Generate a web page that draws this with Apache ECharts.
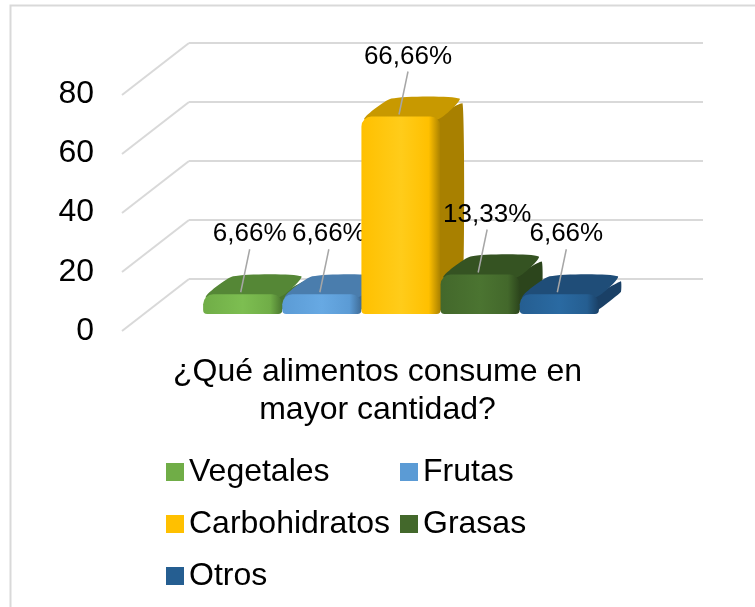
<!DOCTYPE html>
<html>
<head>
<meta charset="utf-8">
<script src="https://cdn.jsdelivr.net/npm/echarts@6/dist/echarts.min.js"></script>
<style>
  html, body { margin: 0; padding: 0; background: #fff; }
  #container { width: 755px; height: 607px; }
</style>
</head>
<body>
<div id="container"></div>
<script>
var category = '¿Qué alimentos consume en mayor cantidad?';
var foods = ['Vegetales', 'Frutas', 'Carbohidratos', 'Grasas', 'Otros'];
var shares = [6.66, 6.66, 66.66, 13.33, 6.66];
var yTicks = [0, 20, 40, 60, 80];

// front, top, side colours per food
var frontColors = ['#70AD47', '#5B9BD5', '#FFC000', '#43682B', '#255E91'];
var lightColors = ['#7DBE51', '#67A9E3', '#FFCC1A', '#4B7431', '#2A6AA2'];
var topColors = ['#558736', '#4A7DAD', '#C89900', '#355322', '#1F4D78'];
var sideColors = ['#4A772F', '#3F6C97', '#A88000', '#2C451C', '#1A4066'];

var FONT = 'Liberation Sans, Arial, sans-serif';
var BAR_FRAC = 0.154;
var DEPTH_X = 22, DEPTH_Y = -18;   // bar depth
var WALL_X = 67, WALL_Y = -52;     // floor depth (front axis -> back wall)

function fmt(v) {
  return v.toFixed(2).replace('.', ',') + '%';
}

function barRenderer(k) {
  return function (params, api) {
    var base = api.coord([api.value(0), 0]);
    var top = api.coord([api.value(0), api.value(1)]);
    var band = api.size([1, 0])[0];
    var w = band * BAR_FRAC;
    var x0 = base[0] + (k - foods.length / 2) * w;
    var yb = base[1], yt = top[1];
    var cx = x0 + w / 2;
    return {
      type: 'group',
      children: [
        {
          type: 'polygon',
          shape: { points: [[x0 + w - 4, yt + 2], [x0 + w + DEPTH_X, yt + DEPTH_Y + 5],
                            [x0 + w + DEPTH_X, yb + DEPTH_Y - 4], [x0 + w - 4, yb - 2]],
                   smooth: 0.1 },
          style: { fill: sideColors[k] }
        },
        {
          type: 'polygon',
          shape: { points: [[x0 + 3, yt + 3], [x0 + w - 3, yt + 3],
                            [x0 + w + DEPTH_X - 3, yt + DEPTH_Y], [x0 + DEPTH_X + 8, yt + DEPTH_Y]],
                   smooth: 0.2 },
          style: { fill: topColors[k] }
        },
        {
          type: 'rect',
          shape: { x: x0, y: yt, width: w, height: yb - yt, r: [10, 10, 4, 4] },
          style: {
            fill: new echarts.graphic.LinearGradient(0, 0, 1, 0, [
              { offset: 0, color: frontColors[k] },
              { offset: 0.5, color: lightColors[k] },
              { offset: 0.85, color: frontColors[k] },
              { offset: 1, color: sideColors[k] }
            ])
          }
        },
        {
          type: 'line',
          shape: { x1: cx - 2, y1: yt - 2, x2: cx + 7, y2: yt - 45 },
          style: { stroke: '#a6a6a6', lineWidth: 1.5 }
        },
        {
          type: 'text',
          style: {
            text: fmt(api.value(1)), x: cx + 7, y: yt - 60,
            align: 'center', verticalAlign: 'middle',
            fontSize: 26, fontFamily: FONT, fill: '#000'
          }
        }
      ]
    };
  };
}

var barSeries = foods.map(function (name, k) {
  return {
    name: name,
    type: 'custom',
    xAxisIndex: 2,
    yAxisIndex: 2,
    itemStyle: { color: frontColors[k] },
    renderItem: barRenderer(k),
    data: [[0, shares[k]]],
    z: 3
  };
});

var legendText = { fontSize: 32, lineHeight: 34, color: '#000', fontFamily: FONT };

var dom = document.getElementById('container');
var myChart = echarts.init(dom);
var option = {
  animation: false,
  backgroundColor: '#fff',
  textStyle: { fontFamily: FONT },
  title: {
    text: '¿Qué alimentos consume en\nmayor cantidad?',
    left: 'center',
    top: 348,
    textStyle: { fontSize: 32, lineHeight: 38, fontWeight: 'normal', color: '#000', fontFamily: FONT }
  },
  legend: [
    {
      orient: 'vertical', left: 166, top: 455, itemGap: 18, padding: 0,
      itemWidth: 18, itemHeight: 18, icon: 'rect',
      data: [foods[0], foods[2], foods[4]],
      textStyle: legendText
    },
    {
      orient: 'vertical', left: 400, top: 455, itemGap: 18, padding: 0,
      itemWidth: 18, itemHeight: 18, icon: 'rect',
      data: [foods[1], foods[3]],
      textStyle: legendText
    }
  ],
  grid: [
    { left: 122, right: 120, top: 94, bottom: 276 },   // front: axis labels
    { left: 189, right: 52, top: 43, bottom: 328 },    // back wall
    { left: 144, right: 97, top: 77, bottom: 293 }     // bars
  ],
  xAxis: [
    { gridIndex: 0, type: 'category', data: [category], show: false },
    { gridIndex: 1, type: 'value', min: 0, max: 1, show: false },
    { gridIndex: 2, type: 'category', data: [category], show: false }
  ],
  yAxis: [
    {
      gridIndex: 0, type: 'value', min: 0, max: 80, interval: 20,
      axisLine: { show: false }, axisTick: { show: false }, splitLine: { show: false },
      axisLabel: { fontSize: 32, color: '#000', margin: 28, fontFamily: FONT, padding: [10, 0, 0, 0] }
    },
    {
      gridIndex: 1, type: 'value', min: 0, max: 80, interval: 20,
      axisLine: { show: false }, axisTick: { show: false }, axisLabel: { show: false },
      splitLine: { lineStyle: { color: '#d9d9d9', width: 2 } }
    },
    { gridIndex: 2, type: 'value', min: 0, max: 80, show: false }
  ],
  graphic: [
    {
      type: 'rect',
      shape: { x: 10.5, y: 5.5, width: 900, height: 900 },
      style: { fill: 'none', stroke: '#d9d9d9', lineWidth: 2 },
      silent: true
    }
  ],
  series: [
    {
      type: 'custom',
      xAxisIndex: 1,
      yAxisIndex: 1,
      silent: true,
      z: 1,
      renderItem: function (params, api) {
        var p = api.coord([0, api.value(1)]);
        return {
          type: 'line',
          shape: { x1: p[0] - WALL_X, y1: p[1] - WALL_Y, x2: p[0], y2: p[1] },
          style: { stroke: '#d9d9d9', lineWidth: 2 }
        };
      },
      data: yTicks.map(function (v) { return [0, v]; })
    }
  ].concat(barSeries)
};
myChart.setOption(option, true);
</script>
</body>
</html>
